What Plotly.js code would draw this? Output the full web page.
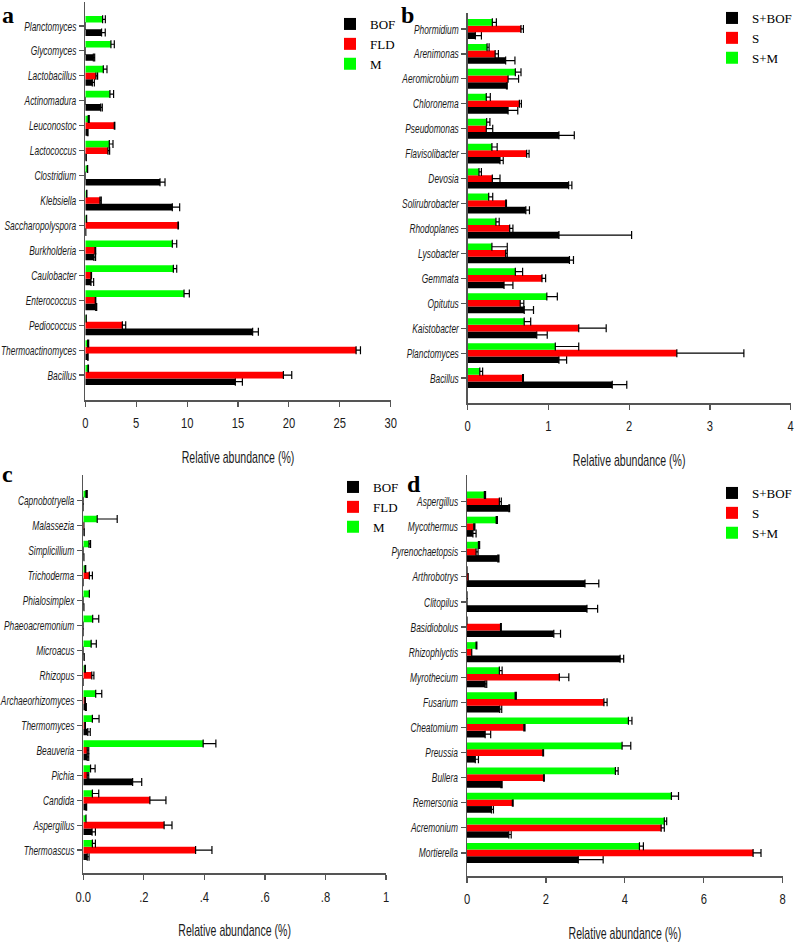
<!DOCTYPE html>
<html>
<head>
<meta charset="utf-8">
<script src="https://cdn.plot.ly/plotly-3.0.1.min.js"></script>
<style>html,body{margin:0;padding:0;background:#fff;}#chart{width:797px;height:942px;}</style>
</head>
<body>
<div id="chart"></div>
<script>
// ---------- Panel a (bacteria) ----------
const aCats = ["Planctomyces","Glycomyces","Lactobacillus","Actinomadura","Leuconostoc","Lactococcus","Clostridium","Klebsiella","Saccharopolyspora","Burkholderia","Caulobacter","Enterococcus","Pediococcus","Thermoactinomyces","Bacillus"];
const aBOF    = [1.6, 0.79, 0.69, 1.51, 0.2, 0.07, 7.34, 8.55, 0.05, 0.85, 0.56, 1.02, 16.44, 0.23, 14.74];
const aBOFErr = [0.36, 0.13, 0.2, 0.16, 0.07, 0.03, 0.49, 0.72, 0, 0.16, 0.26, 0.1, 0.56, 0.05, 0.69];
const aFLD    = [0, 0, 1.05, 0, 2.85, 2.23, 0, 1.44, 9.1, 0.95, 0.56, 0.98, 3.64, 26.6, 19.46];
const aFLDErr = [0, 0, 0.16, 0, 0.05, 0.16, 0, 0.13, 0.05, 0.07, 0.05, 0.05, 0.33, 0.43, 0.82];
const aM      = [1.7, 2.52, 1.77, 2.42, 0.29, 2.36, 0.2, 0.13, 0.1, 8.55, 8.65, 9.7, 0.07, 0.23, 0.26];
const aMErr   = [0.27, 0.33, 0.36, 0.36, 0.1, 0.36, 0.03, 0.03, 0.03, 0.43, 0.33, 0.52, 0.03, 0.1, 0.05];
const aTicks  = [0, 5, 10, 15, 20, 25, 30];
const aTickText = ["0", "5", "10", "15", "20", "25", "30"];

// ---------- Panel b (bacteria, soil) ----------
const bCats = ["Phormidium","Arenimonas","Aeromicrobium","Chloronema","Pseudomonas","Flavisolibacter","Devosia","Solirubrobacter","Rhodoplanes","Lysobacter","Gemmata","Opitutus","Kaistobacter","Planctomyces","Bacillus"];
const bSBOF    = [0.095, 0.47, 0.48, 0.5, 1.13, 0.4, 1.25, 0.72, 1.13, 1.26, 0.45, 0.7, 0.855, 1.13, 1.79];
const bSBOFErr = [0.075, 0.115, 0.01, 0.12, 0.19, 0.04, 0.04, 0.045, 0.9, 0.05, 0.11, 0.115, 0.13, 0.095, 0.18];
const bS       = [0.66, 0.34, 0.5, 0.64, 0.23, 0.73, 0.305, 0.47, 0.52, 0.47, 0.92, 0.65, 1.375, 2.59, 0.68];
const bSErr    = [0.03, 0.04, 0.13, 0.025, 0.08, 0.03, 0.095, 0.01, 0.04, 0.02, 0.045, 0.045, 0.34, 0.83, 0.01];
const bSM      = [0.305, 0.24, 0.59, 0.23, 0.235, 0.3, 0.14, 0.26, 0.35, 0.3, 0.59, 0.98, 0.7, 1.085, 0.15];
const bSMErr   = [0.05, 0.025, 0.07, 0.05, 0.04, 0.065, 0.03, 0.05, 0.04, 0.19, 0.09, 0.13, 0.08, 0.29, 0.035];
const bTicks  = [0, 1, 2, 3, 4];
const bTickText = ["0", "1", "2", "3", "4"];

// ---------- Panel c (fungi) ----------
const cCats = ["Capnobotryella","Malassezia","Simplicillium","Trichoderma","Phialosimplex","Phaeoacremonium","Microacus","Rhizopus","Archaeorhizomyces","Thermomyces","Beauveria","Pichia","Candida","Aspergillus","Thermoascus"];
const cBOF    = [0, 0.003, 0.002, 0, 0.002, 0, 0.003, 0, 0.007, 0.015, 0.013, 0.163, 0.009, 0.029, 0.013];
const cBOFErr = [0, 0, 0, 0, 0, 0, 0, 0, 0.003, 0.008, 0.005, 0.03, 0.002, 0.011, 0.006];
const cFLD    = [0, 0.002, 0, 0.02, 0, 0, 0, 0.028, 0.005, 0.005, 0.013, 0.013, 0.22, 0.267, 0.371];
const cFLDErr = [0, 0, 0, 0.01, 0, 0, 0, 0.007, 0.002, 0.002, 0.005, 0.005, 0.053, 0.026, 0.054];
const cM      = [0.009, 0.046, 0.019, 0.006, 0.02, 0.031, 0.026, 0.005, 0.041, 0.03, 0.396, 0.024, 0.03, 0.009, 0.03];
const cMErr   = [0.004, 0.066, 0.005, 0.002, 0, 0.02, 0.017, 0.002, 0.02, 0.022, 0.042, 0.015, 0.021, 0, 0.01];
const cTicks  = [0, 0.2, 0.4, 0.6, 0.8, 1];
const cTickText = ["0.0", ".2", ".4", ".6", ".8", "1"];

// ---------- Panel d (fungi, soil) ----------
const dCats = ["Aspergillus","Mycothermus","Pyrenochaetopsis","Arthrobotrys","Clitopilus","Basidiobolus","Rhizophlyctis","Myrothecium","Fusarium","Cheatomium","Preussia","Bullera","Remersonia","Acremonium","Mortierella"];
const dSBOF    = [1.06, 0.15, 0.78, 2.99, 3.04, 2.2, 3.88, 0.46, 0.83, 0.46, 0.21, 0.86, 0.62, 1.06, 2.82];
const dSBOFErr = [0.02, 0.08, 0.03, 0.35, 0.27, 0.17, 0.09, 0.04, 0.05, 0.14, 0.08, 0.03, 0.05, 0.06, 0.63];
const dS       = [0.82, 0.17, 0.23, 0.03, 0, 0.85, 0.12, 2.34, 3.47, 1.44, 1.92, 1.94, 1.15, 4.92, 7.25];
const dSErr    = [0.05, 0.03, 0.05, 0, 0, 0.02, 0, 0.24, 0.08, 0.03, 0.02, 0.02, 0.02, 0.08, 0.2];
const dSM      = [0.44, 0.74, 0.29, 0, 0, 0, 0.23, 0.82, 1.22, 4.09, 3.93, 3.76, 5.18, 5.0, 4.37];
const dSMErr   = [0.03, 0.03, 0.03, 0, 0, 0, 0.02, 0.07, 0.03, 0.09, 0.22, 0.07, 0.18, 0.06, 0.1];
const dTicks  = [0, 2, 4, 6, 8];
const dTickText = ["0", "2", "4", "6", "8"];

const axisTitle = "Relative abundance (%)";
const COLORS = {black: "#000000", red: "#ff0000", green: "#00ff00"};

// ---------- helpers ----------
const W = 797, H = 942;
const px = v => v / W;
const py = v => 1 - v / H;

function errObj(arr) {
  return {
    type: "data", symmetric: false,
    array: arr.map(e => e > 0 ? e : NaN),
    arrayminus: arr.map(() => 0),
    color: "#000", thickness: 1.2, width: 4
  };
}
function bar(name, x, err, cats, color, xa, ya, legend) {
  return {
    type: "bar", orientation: "h", name: name, x: x, y: cats,
    xaxis: xa, yaxis: ya, legend: legend, showlegend: true,
    marker: {color: color, line: {width: 0}},
    error_x: errObj(err), hoverinfo: "x+y"
  };
}

const traces = [
  bar("BOF", aBOF, aBOFErr, aCats, COLORS.black, "x", "y", "legend"),
  bar("FLD", aFLD, aFLDErr, aCats, COLORS.red, "x", "y", "legend"),
  bar("M", aM, aMErr, aCats, COLORS.green, "x", "y", "legend"),
  bar("S+BOF", bSBOF, bSBOFErr, bCats, COLORS.black, "x2", "y2", "legend2"),
  bar("S", bS, bSErr, bCats, COLORS.red, "x2", "y2", "legend2"),
  bar("S+M", bSM, bSMErr, bCats, COLORS.green, "x2", "y2", "legend2"),
  bar("BOF", cBOF, cBOFErr, cCats, COLORS.black, "x3", "y3", "legend3"),
  bar("FLD", cFLD, cFLDErr, cCats, COLORS.red, "x3", "y3", "legend3"),
  bar("M", cM, cMErr, cCats, COLORS.green, "x3", "y3", "legend3"),
  bar("S+BOF", dSBOF, dSBOFErr, dCats, COLORS.black, "x4", "y4", "legend4"),
  bar("S", dS, dSErr, dCats, COLORS.red, "x4", "y4", "legend4"),
  bar("S+M", dSM, dSMErr, dCats, COLORS.green, "x4", "y4", "legend4")
];

const TICKFONT = "Liberation Sans, Arial, sans-serif";
const AXCOL = "#555555";
const TXT = "#1a1a1a";

function xAxis(domain, range, tv, tt, anchor) {
  return {
    domain: domain, range: range, anchor: anchor, fixedrange: true,
    tickmode: "array", tickvals: tv, ticktext: tt,
    showline: true, linecolor: AXCOL, linewidth: 1.5,
    ticks: "outside", ticklen: 5, tickcolor: AXCOL, tickwidth: 1.2,
    ticklabelstandoff: 5,
    showgrid: false, zeroline: false,
    tickfont: {family: TICKFONT, size: 14, color: TXT},
    title: {text: axisTitle, standoff: 21, font: {family: TICKFONT, size: 16, color: TXT}}
  };
}
function yAxis(domain, cats, range, anchor) {
  return {
    domain: domain, range: range, anchor: anchor, fixedrange: true,
    type: "category", categoryorder: "array", categoryarray: cats.slice().reverse(),
    showline: true, linecolor: AXCOL, linewidth: 1.5,
    ticks: "outside", ticklen: 5, tickcolor: AXCOL, tickwidth: 1.2,
    showgrid: false, zeroline: false,
    tickfont: {family: TICKFONT, size: 13, color: TXT, style: "italic"}
  };
}
function legendAt(x, y) {
  return {
    x: px(x), y: py(y), xanchor: "left", yanchor: "top",
    bgcolor: "rgba(0,0,0,0)", borderwidth: 0, tracegroupgap: 0,
    font: {family: "Liberation Serif, Times New Roman, serif", size: 13, color: "#000"},
    itemwidth: 30, traceorder: "normal"
  };
}
function letter(t, x, y) {
  return {text: t, x: px(x), y: py(y), xref: "paper", yref: "paper", showarrow: false,
    xanchor: "left", yanchor: "top",
    font: {family: "Liberation Serif, Times New Roman, serif", size: 24, color: "#000", weight: "bold"}};
}

const layout = {
  width: W, height: H, autosize: false,
  margin: {l: 0, r: 0, t: 0, b: 0, pad: 0},
  paper_bgcolor: "#fff", plot_bgcolor: "#fff",
  barmode: "group", bargap: 0.2, bargroupgap: 0,
  xaxis:  xAxis([px(85.3), px(390.7)], [0, 30], aTicks, aTickText, "y"),
  yaxis:  yAxis([py(400), py(2)], aCats, [-1, 14.96], "x"),
  xaxis2: xAxis([px(467.7), px(790.7)], [0, 4], bTicks, bTickText, "y2"),
  yaxis2: yAxis([py(403), py(13)], bCats, [-1, 14.64], "x2"),
  xaxis3: xAxis([px(83.3), px(386)], [0, 1], cTicks, cTickText, "y3"),
  yaxis3: yAxis([py(873.3), py(475)], cCats, [-0.93, 15.03], "x3"),
  xaxis4: xAxis([px(467), px(782.7)], [0, 8], dTicks, dTickText, "y4"),
  yaxis4: yAxis([py(876), py(475)], dCats, [-0.92, 15.06], "x4"),
  legend:  legendAt(330, 9),
  legend2: legendAt(712, 3),
  legend3: legendAt(333, 472),
  legend4: legendAt(712, 478),
  annotations: [
    letter("a", 0, 0),
    letter("b", 399, 0),
    letter("c", 0, 459),
    letter("d", 405, 469)
  ],
  showlegend: true
};

// Narrow the sans-serif texts horizontally (the reference uses a condensed face,
// which is not installed); anchors stay where Plotly put them.
function condense(gd) {
  function squeeze(t, sx) {
    const bb = t.getBBox();
    const anchor = t.getAttribute("text-anchor") || "start";
    const ax = anchor === "end" ? bb.x + bb.width : (anchor === "middle" ? bb.x + bb.width / 2 : bb.x);
    const tr = t.getAttribute("transform") || "";
    t.setAttribute("transform", tr + " translate(" + ax + ",0) scale(" + sx + ",1) translate(" + (-ax) + ",0)");
  }
  gd.querySelectorAll(".yaxislayer-above text").forEach(t => squeeze(t, 0.645));
  gd.querySelectorAll(".xaxislayer-above text").forEach(t => squeeze(t, 0.8));
  gd.querySelectorAll(".xtitle, .x2title, .x3title, .x4title").forEach(t => squeeze(t, 0.66));
}

Plotly.newPlot("chart", traces, layout, {displayModeBar: false, staticPlot: true}).then(condense);
</script>
</body>
</html>
